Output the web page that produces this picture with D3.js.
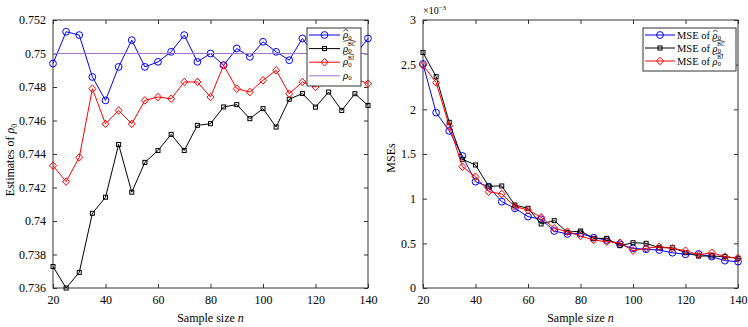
<!DOCTYPE html>
<html lang="en">
  <head>
    <meta charset="UTF-8" />
    <title>Estimates of rho0 and MSEs vs sample size</title>
    <script src="https://d3js.org/d3.v7.min.js"></script>
    <style>
      body {
        margin: 0;
        background: #fff;
      }
      svg text {
        font-family: "Liberation Serif", "Times New Roman", "DejaVu Serif", serif;
        font-stretch: condensed;
        fill: #000;
      }
      .line {
        fill: none;
        stroke-width: 1;
      }
    </style>
  </head>
  <body>
    <svg width="748" height="327" id="chart"></svg>

    <script>
      // sample sizes
      const sampleSizes = [20, 25, 30, 35, 40, 45, 50, 55, 60, 65, 70, 75, 80,
        85, 90, 95, 100, 105, 110, 115, 120, 125, 130, 135, 140];

      // left panel: estimates of rho0
      const rhoHat = [0.7494, 0.7513, 0.7511, 0.7486, 0.7472, 0.7492, 0.7508,
        0.7492, 0.7495, 0.7501, 0.7511, 0.7495, 0.75, 0.7493, 0.7503, 0.7498,
        0.7507, 0.7501, 0.7496, 0.7509, 0.7498, 0.7506, 0.7502, 0.7499, 0.7509];
      const rhoBC = [0.73728, 0.736, 0.73693, 0.74046, 0.74142, 0.74457,
        0.74172, 0.7435, 0.74421, 0.74517, 0.74421, 0.74571, 0.74581, 0.74681,
        0.74695, 0.74611, 0.74671, 0.74561, 0.74727, 0.74761, 0.7468, 0.7477,
        0.7466, 0.7476, 0.7469];
      const rhoBJ = [0.7433, 0.74235, 0.7438, 0.7479, 0.7458, 0.7466, 0.7458,
        0.7472, 0.7474, 0.7473, 0.7483, 0.7483, 0.7474, 0.7493, 0.7479, 0.7477,
        0.7484, 0.749, 0.7476, 0.7483, 0.748, 0.7486, 0.7487, 0.7485, 0.7482];
      const rhoTrue = 0.75;

      // right panel: MSEs (x 10^-3)
      const mseHat = [2.508, 1.963, 1.758, 1.478, 1.19, 1.134, 0.966, 0.892,
        0.799, 0.769, 0.638, 0.605, 0.612, 0.563, 0.537, 0.489, 0.444, 0.433,
        0.425, 0.395, 0.377, 0.381, 0.351, 0.306, 0.295];
      const mseBC = [2.635, 2.366, 1.855, 1.441, 1.377, 1.14, 1.142, 0.929,
        0.892, 0.717, 0.754, 0.624, 0.638, 0.556, 0.556, 0.474, 0.507, 0.5,
        0.451, 0.451, 0.395, 0.358, 0.358, 0.351, 0.333];
      const mseBJ = [2.494, 2.3, 1.814, 1.358, 1.246, 1.078, 1.053, 0.911,
        0.873, 0.792, 0.668, 0.631, 0.582, 0.537, 0.518, 0.507, 0.418, 0.444,
        0.462, 0.444, 0.418, 0.37, 0.395, 0.351, 0.333];

      const xTicks = [20, 40, 60, 80, 100, 120, 140];
      const leftTicks = [0.736, 0.738, 0.74, 0.742, 0.744, 0.746, 0.748, 0.75, 0.752];
      const rightTicks = [0, 0.5, 1, 1.5, 2, 2.5, 3];

      const blue = "#0000ff";
      const red = "#ff0000";
      const black = "#000000";
      const purple = "#9f73cf";

      const svg = d3.select("#chart");
      const tickFont = 12;

      // one panel: box, inward ticks on all sides
      function panel(left, right, yDomain, yTicks, yFmt) {
        const x = d3.scaleLinear().domain([20, 140]).range([left, right]);
        const y = d3.scaleLinear().domain(yDomain).range([288, 20]);
        const g = svg.append("g");

        const addAxis = (axis, tx, ty) => {
          const a = g.append("g").attr("transform", `translate(${tx},${ty})`).call(axis);
          a.attr("font-family", null);
          a.select(".domain").remove();
          a.selectAll(".tick line").attr("stroke", "#333");
          a.selectAll("text").attr("font-size", tickFont).attr("fill", "#000");
          return a;
        };
        addAxis(d3.axisBottom(x).tickValues(xTicks).tickSize(-4).tickPadding(7), 0, 288);
        addAxis(d3.axisTop(x).tickValues(xTicks).tickSize(-4).tickFormat(""), 0, 20);
        addAxis(d3.axisLeft(y).tickValues(yTicks).tickSize(-4).tickPadding(7).tickFormat(yFmt), left, 0);
        addAxis(d3.axisRight(y).tickValues(yTicks).tickSize(-4).tickFormat(""), right, 0);

        g.append("rect")
          .attr("x", left).attr("y", 20)
          .attr("width", right - left).attr("height", 268)
          .attr("fill", "none").attr("stroke", "#333").attr("stroke-width", 1);

        svg.append("text")
          .attr("x", (left + right) / 2).attr("y", 322)
          .attr("text-anchor", "middle").attr("font-size", tickFont)
          .html('Sample size <tspan font-style="italic">n</tspan>');
        return { x, y, g };
      }

      function marker(g, kind, cx, cy, color) {
        if (kind === "circle") {
          g.append("circle").attr("cx", cx).attr("cy", cy).attr("r", 3.4)
            .attr("fill", "none").attr("stroke", color);
        } else if (kind === "square") {
          g.append("rect").attr("x", cx - 2).attr("y", cy - 2)
            .attr("width", 4).attr("height", 4)
            .attr("fill", "none").attr("stroke", color);
        } else {
          g.append("path")
            .attr("d", `M${cx},${cy - 3.8}L${cx + 3.5},${cy}L${cx},${cy + 3.8}L${cx - 3.5},${cy}Z`)
            .attr("fill", "none").attr("stroke", color);
        }
      }

      function series(p, values, color, kind) {
        const pts = sampleSizes.map((n, i) => [p.x(n), p.y(values[i])]);
        p.g.append("path").attr("class", "line")
          .attr("d", d3.line()(pts)).attr("stroke", color);
        pts.forEach((d) => marker(p.g, kind, d[0], d[1], color));
      }

      // legend label: [prefix] rho_0 with optional superscript and hat, one text element
      function rhoLabel(g, x, y, fs, prefix, sup, hat) {
        const t = g.append("text").attr("x", x).attr("y", y).attr("font-size", fs);
        if (prefix) t.append("tspan").text(prefix + "\u00a0");
        t.append("tspan").attr("font-style", "italic").text("ρ");
        t.append("tspan").attr("font-size", 0.62 * fs).attr("dy", 0.13 * fs).text("0");
        if (sup) {
          t.append("tspan").attr("font-size", 0.52 * fs)
            .attr("dx", -0.34 * fs).attr("dy", -0.62 * fs).text(sup);
        }
        if (hat) {
          const node = t.node();
          const i0 = prefix ? prefix.length + 1 : 0;
          const a = node.getExtentOfChar(i0);
          const b = node.getExtentOfChar(hat === "wide" ? node.getNumberOfChars() - 1 : i0);
          const x0 = a.x + 0.3, x1 = b.x + b.width;
          const top = sup ? y - 1.08 * fs : y - 0.8 * fs;
          g.append("path")
            .attr("d", `M${x0},${top + 0.14 * fs}L${(x0 + x1) / 2},${top}L${x1},${top + 0.14 * fs}`)
            .attr("fill", "none").attr("stroke", "#000").attr("stroke-width", 0.7);
        }
      }

      // ---------- left panel ----------
      const fmt3 = (d) => String(+d.toFixed(3));
      const L = panel(53, 368, [0.736, 0.752], leftTicks, fmt3);
      series(L, rhoHat, blue, "circle");
      series(L, rhoBC, black, "square");
      series(L, rhoBJ, red, "diamond");
      L.g.append("line")
        .attr("x1", L.x(20)).attr("x2", L.x(140))
        .attr("y1", L.y(rhoTrue)).attr("y2", L.y(rhoTrue))
        .attr("stroke", purple);

      svg.append("text")
        .attr("transform", "translate(14,160) rotate(-90)")
        .attr("text-anchor", "middle").attr("font-size", tickFont)
        .html('Estimates of <tspan font-style="italic">ρ</tspan><tspan font-size="8" dy="3">0</tspan>');

      // left legend
      const legL = svg.append("g");
      legL.append("rect").attr("x", 307).attr("y", 28).attr("width", 54).attr("height", 58)
        .attr("fill", "#fff").attr("stroke", "#333");
      const leftLegend = [
        { color: blue, kind: "circle", sup: null, hat: "small" },
        { color: black, kind: "square", sup: "BC", hat: "wide" },
        { color: red, kind: "diamond", sup: "BJ", hat: "wide" },
        { color: purple, kind: null, sup: null, hat: null },
      ];
      leftLegend.forEach((e, i) => {
        const cy = 35 + i * 13.6;
        legL.append("line").attr("x1", 309).attr("x2", 340).attr("y1", cy).attr("y2", cy)
          .attr("stroke", e.color);
        if (e.kind) marker(legL, e.kind, 324.5, cy, e.color);
        rhoLabel(legL, 343, cy + 3.2, 11, null, e.sup, e.hat);
      });

      // ---------- right panel ----------
      const R = panel(423, 738, [0, 3], rightTicks, (d) => String(d));
      series(R, mseHat, blue, "circle");
      series(R, mseBC, black, "square");
      series(R, mseBJ, red, "diamond");

      svg.append("text")
        .attr("transform", "translate(395,158) rotate(-90)")
        .attr("text-anchor", "middle").attr("font-size", tickFont)
        .text("MSEs");
      svg.append("text").attr("x", 423).attr("y", 14).attr("font-size", 10)
        .html('×10<tspan font-size="7" dy="-4">−3</tspan>');

      // right legend
      const legR = svg.append("g");
      legR.append("rect").attr("x", 643).attr("y", 28).attr("width", 93).attr("height", 43)
        .attr("fill", "#fff").attr("stroke", "#333");
      const rightLegend = [
        { color: blue, kind: "circle", sup: null, hat: "small" },
        { color: black, kind: "square", sup: "BC", hat: "wide" },
        { color: red, kind: "diamond", sup: "BJ", hat: "wide" },
      ];
      rightLegend.forEach((e, i) => {
        const cy = 35 + i * 13;
        legR.append("line").attr("x1", 645).attr("x2", 675).attr("y1", cy).attr("y2", cy)
          .attr("stroke", e.color);
        marker(legR, e.kind, 660, cy, e.color);
        rhoLabel(legR, 677, cy + 3.6, 10.5, "MSE of", e.sup, e.hat);
      });
    </script>
  </body>
</html>
